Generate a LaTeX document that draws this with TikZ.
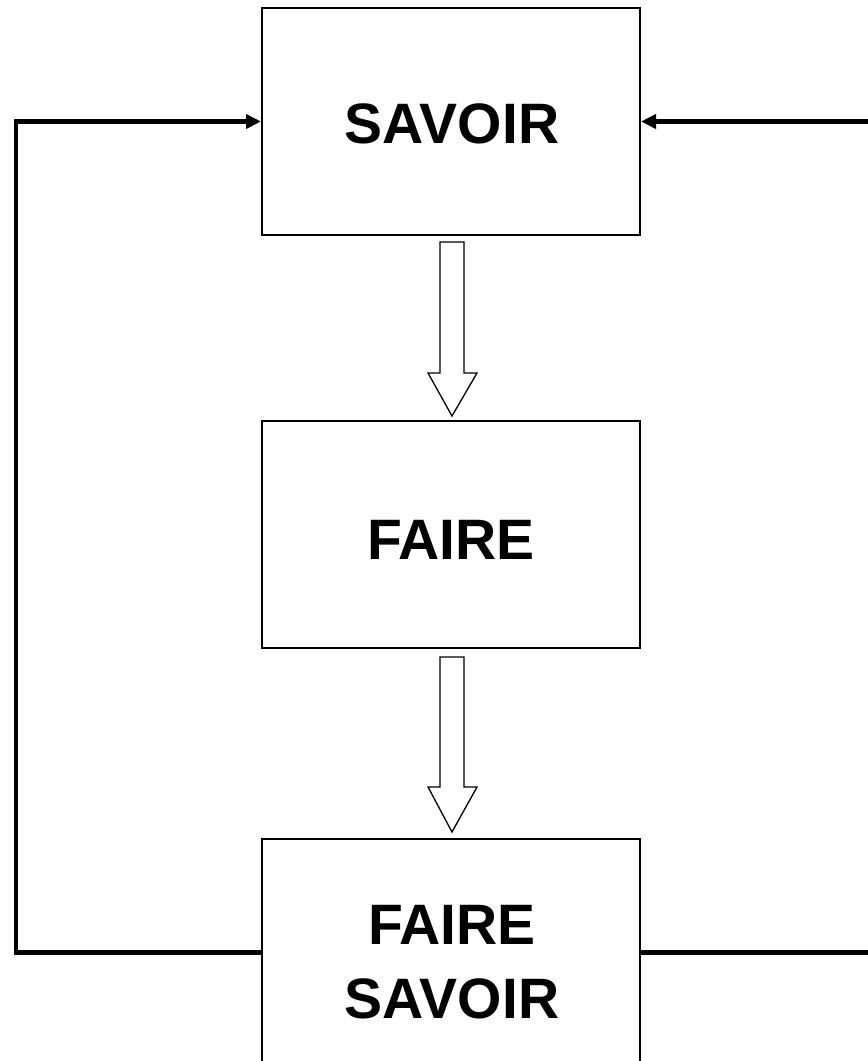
\documentclass[tikz,border=0pt]{standalone}
\usepackage{fontspec}
\setmainfont{Liberation Sans}
\usetikzlibrary{arrows.meta}
\begin{document}
\begin{tikzpicture}[x=1pt,y=-1pt,
  box/.style={draw=black,line width=2pt,minimum width=378pt,minimum height=227pt,inner sep=0pt,fill=white},
  lbl/.style={font=\bfseries\fontsize{57}{74}\selectfont,align=center,inner sep=0pt},
  conn/.style={line width=4.5pt,-{Triangle[length=15pt,width=14pt]}},
  hollow/.style={draw=black,line width=1.3pt,fill=white,line join=miter}]
\useasboundingbox (0,0) rectangle (868,1061);
\clip (0,0) rectangle (868,1061);
\node[box] (savoir) at (451,121.5) {};
\node[box] (faire) at (451,534.5) {};
\node[box] (fs) at (451,952.5) {};
\node[lbl] (t1) at (452,124) {SAVOIR};
\node[lbl] (t2) at (451,540) {FAIRE};
\node[lbl] (t3) at (452,962) {FAIRE\\SAVOIR};
\coordinate (lc) at (16,0);
\coordinate (rc) at (874,0);
\draw[conn] (fs.west) -| (lc |- fs.west) -- (lc |- savoir.west) -- (savoir.west);
\draw[conn] (fs.east) -- (rc |- fs.east) -- (rc |- savoir.east) -- (savoir.east);
% hollow arrows
\draw[hollow] (440,242) -- (464,242) -- (464,373) -- (477,373) -- (452,416) -- (428,373) -- (440,373) -- cycle;
\draw[hollow] (440,657) -- (464,657) -- (464,787) -- (477,787) -- (452,832) -- (428,787) -- (440,787) -- cycle;
\end{tikzpicture}
\end{document}
